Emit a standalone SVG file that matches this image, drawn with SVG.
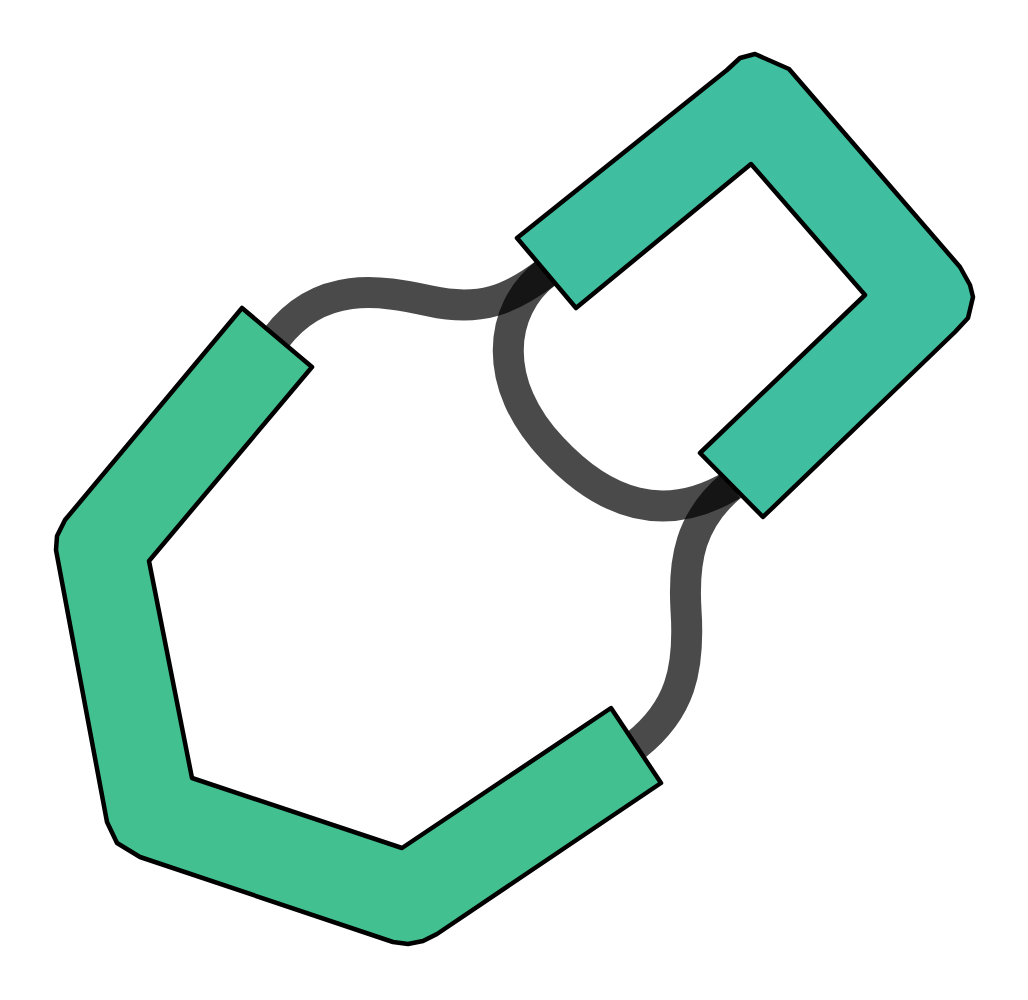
<svg xmlns="http://www.w3.org/2000/svg" width="1028" height="1000" viewBox="0 0 1028 1000">
<style>
.link{fill:none;stroke:#000;stroke-opacity:0.71;stroke-width:31}
.blk{stroke:#000;stroke-width:4.5;stroke-linejoin:round}
</style>
<rect width="1028" height="1000" fill="#fff"/>
<g id="connectors">
<path class="link" d="M 276,338 C 320,280 380,290 430,301 C 480,312 510,300 547,272"/>
<path class="link" d="M 547,272 C 497,310 492,385 552,448 C 605,505 665,525 732,485"/>
<path class="link" d="M 732,485 C 690,520 683,560 686,610 C 690,670 680,710 636,745"/>
</g>
<g id="node-left">
<path class="blk" fill="#42c090" d="M 242,308 L 312,367 L 149,561 L 192,778 L 402,848 L 611,708 L 661,783 L 437,934 L 423,941 L 408,944 L 393,942 L 140,857 L 117,843 L 107,822 L 56,550 L 57,536 L 65,520 Z"/>
</g>
<g id="node-right">
<path class="blk" fill="#3fbea0" d="M 517,238 L 727,70 L 740,58 L 755,54 L 789,69 L 960,267 L 970,285 L 973,297 L 968,318 L 955,332 L 763,517 L 700,453 L 865,295 L 751,164 L 576,308 Z"/>
</g>
</svg>
